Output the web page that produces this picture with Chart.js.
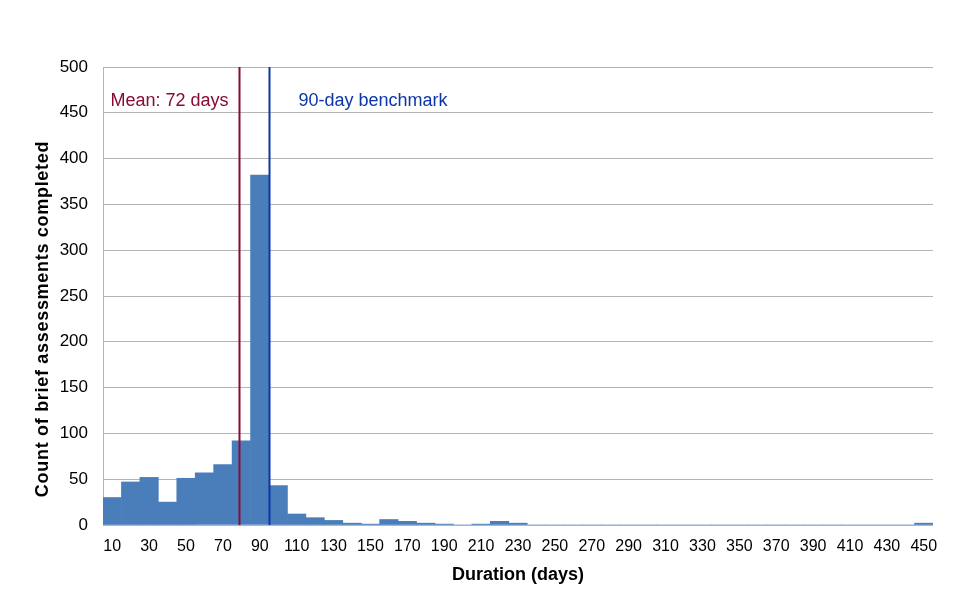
<!DOCTYPE html>
<html>
<head>
<meta charset="utf-8">
<script src="https://cdn.jsdelivr.net/npm/chart.js@4.4.1/dist/chart.umd.min.js"></script>
<style>
  html, body { margin: 0; padding: 0; background: #fff; }
  #wrap { width: 970px; height: 616px; }
</style>
</head>
<body>
<div id="wrap"><canvas id="duration-hist"></canvas></div>
<script>
// duration bins (days), labelled by upper edge of each 10-day bin
let durationBins = [10, 20, 30, 40, 50, 60, 70, 80, 90, 100,
  110, 120, 130, 140, 150, 160, 170, 180, 190, 200,
  210, 220, 230, 240, 250, 260, 270, 280, 290, 300,
  310, 320, 330, 340, 350, 360, 370, 380, 390, 400,
  410, 420, 430, 440, 450];
let briefCounts = [30, 47, 52, 25, 51, 57, 66, 92, 382, 43,
  12, 8, 5, 2, 1, 6, 4, 2, 1, 0,
  1, 4, 2, 0, 0, 0, 0, 0, 0, 0,
  0, 0, 0, 0, 0, 0, 0, 0, 0, 0,
  0, 0, 0, 0, 2];
let yTicks = [0, 50, 100, 150, 200, 250, 300, 350, 400, 450, 500];

// where the two reference lines sit on the day axis (as drawn in the original)
let markerAt = [73.7, 90];
let markerLabels = ["Mean: 72 days", "90-day benchmark"];
let binWidth = 10;

const FONT = "'Liberation Sans', Arial, sans-serif";
const barBlue = "#4a7ebb";
const meanRed = "#880a36";
const benchBlue = "#0b36a8";

// vertical reference lines + their captions, plus the axis titles
const overlay = {
  id: "overlay",
  beforeDatasetsDraw(chart) {
    const ctx = chart.ctx, a = chart.chartArea;
    ctx.save();
    ctx.strokeStyle = "#b4b4b4";
    ctx.lineWidth = 1;
    ctx.beginPath();
    ctx.moveTo(a.left + 0.5, a.top);
    ctx.lineTo(a.left + 0.5, a.bottom);
    ctx.stroke();
    ctx.restore();
  },
  afterDatasetsDraw(chart) {
    const ctx = chart.ctx, a = chart.chartArea, x = chart.scales.x;
    const cols = [meanRed, benchBlue];
    ctx.save();
    markerAt.forEach((d, i) => {
      let px = Math.round(x.getPixelForValue(d / binWidth - 0.5)) + 0.5;
      ctx.strokeStyle = cols[i];
      ctx.lineWidth = 2;
      ctx.beginPath();
      ctx.moveTo(px, a.top);
      ctx.lineTo(px, a.bottom);
      ctx.stroke();
      ctx.fillStyle = cols[i];
      ctx.font = "18px " + FONT;
      ctx.textBaseline = "middle";
      if (i === 0) {
        ctx.textAlign = "right";
        ctx.fillText(markerLabels[i], px - 11, 101);
      } else {
        ctx.textAlign = "left";
        ctx.fillText(markerLabels[i], px + 29, 101);
      }
    });

    ctx.fillStyle = "#000";
    ctx.font = "bold 18px " + FONT;
    ctx.textAlign = "center";
    ctx.textBaseline = "middle";
    ctx.fillText("Duration (days)", (a.left + a.right) / 2, 575);

    ctx.translate(43, 319);
    ctx.rotate(-Math.PI / 2);
    ctx.letterSpacing = "0.7px";
    ctx.fillText("Count of brief assessments completed", 0, 0);
    ctx.restore();
  }
};

new Chart(document.getElementById("duration-hist"), {
  type: "bar",
  data: {
    labels: durationBins,
    datasets: [{
      label: "Brief assessments",
      data: briefCounts,
      backgroundColor: barBlue,
      borderWidth: 0,
      barPercentage: 1,
      categoryPercentage: 1
    }]
  },
  options: {
    responsive: true,
    maintainAspectRatio: false,
    animation: false,
    layout: { padding: { top: 67, right: 37, bottom: 0, left: 0 } },
    plugins: {
      legend: { display: false },
      tooltip: { enabled: false }
    },
    scales: {
      x: {
        grid: { display: false, drawTicks: false },
        border: { display: false },
        ticks: {
          autoSkip: false,
          maxRotation: 0,
          minRotation: 0,
          padding: 12,
          color: "#000",
          font: { family: FONT, size: 16 },
          callback: function (v, i) { return i % 2 === 0 ? durationBins[i] : ""; }
        },
        afterFit: s => { s.height = 91; }
      },
      y: {
        min: 0,
        max: 500,
        afterBuildTicks: s => { s.ticks = yTicks.map(v => ({ value: v })); },
        grid: { color: "#b4b4b4", lineWidth: 1, drawTicks: false },
        border: { display: false },
        ticks: {
          padding: 15,
          color: "#000",
          font: { family: FONT, size: 17 }
        },
        afterFit: s => { s.width = 103; }
      }
    }
  },
  plugins: [overlay]
});
</script>
</body>
</html>
